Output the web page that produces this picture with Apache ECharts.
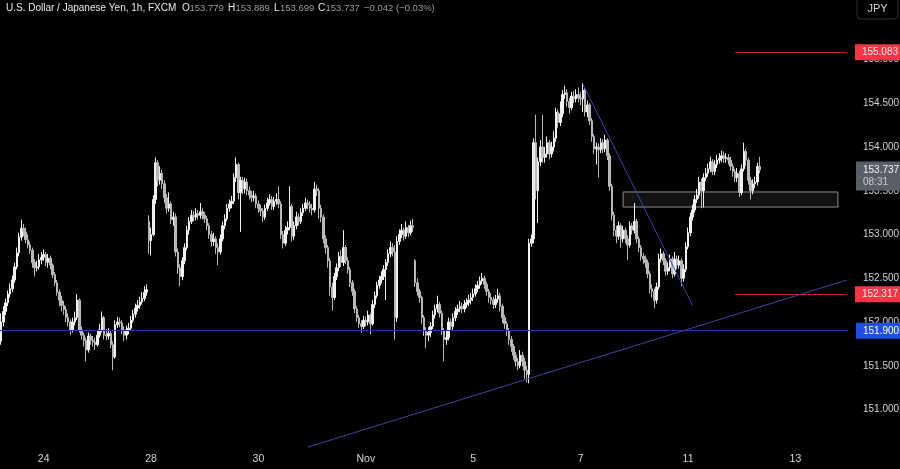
<!DOCTYPE html>
<html><head><meta charset="utf-8">
<script src="https://cdn.jsdelivr.net/npm/echarts@6/dist/echarts.min.js"></script>
<style>html,body{margin:0;padding:0;background:#000;}#c{width:900px;height:469px;}</style>
</head><body><div id="c"></div>
<script>
// ---- data (USDJPY 1h) ----
const opens = [151.78,152.00,152.12,152.22,152.32,152.38,152.48,152.63,152.79,152.97,
153.07,153.03,152.94,152.88,152.82,152.68,152.62,152.63,152.71,152.74,
152.77,152.68,152.73,152.65,152.54,152.45,152.34,152.25,152.19,152.14,
152.05,152.00,151.91,152.00,152.05,152.25,151.91,151.85,151.79,151.68,
151.84,151.79,151.77,151.74,151.85,151.91,152.05,151.85,151.84,151.87,
151.74,151.60,151.97,152.00,151.99,151.91,151.85,151.91,151.93,152.02,
152.09,152.16,152.19,152.23,152.27,152.34,153.15,152.93,153.00,153.40,
153.82,153.62,153.70,153.58,153.42,153.30,153.35,153.17,153.20,152.80,
152.62,152.52,152.70,152.85,153.05,153.15,153.22,153.20,153.24,153.22,
153.26,153.22,153.18,153.10,153.00,152.92,152.95,152.85,152.80,152.95,
153.10,153.18,153.30,153.35,153.38,153.65,153.80,153.48,153.62,153.52,
153.60,153.50,153.45,153.42,153.44,153.35,153.30,153.27,153.20,153.30,
153.36,153.40,153.32,153.38,153.40,153.35,153.00,152.90,153.05,153.08,
153.32,152.98,153.10,153.20,153.15,153.25,153.30,153.36,153.34,153.30,
153.28,153.52,153.50,153.30,153.20,152.95,152.85,152.70,152.40,152.28,
152.52,152.62,152.75,152.68,152.85,152.70,152.60,152.45,152.35,152.15,
152.05,151.98,151.95,152.02,152.00,152.08,151.98,152.20,152.30,152.42,
152.48,152.52,152.60,152.68,152.78,152.85,152.80,152.05,152.92,153.00,
153.05,152.98,153.08,153.02,153.10,152.70,152.45,152.35,152.28,152.05,
151.90,151.85,151.88,151.95,152.08,152.15,152.20,152.10,151.90,151.80,
151.82,152.00,151.95,152.05,152.12,152.15,152.18,152.15,152.20,152.22,
152.25,152.28,152.32,152.38,152.42,152.47,152.50,152.43,152.35,152.28,
152.25,152.20,152.26,152.30,152.18,152.05,151.98,151.90,151.80,151.72,
151.62,151.55,151.50,151.62,151.55,151.45,151.40,152.90,152.95,154.05,
153.50,153.83,154.00,153.88,153.92,154.05,153.92,154.00,154.10,154.40,
154.28,154.38,154.60,154.62,154.52,154.45,154.58,154.55,154.60,154.56,
154.55,154.65,154.40,154.48,154.30,154.12,153.98,154.00,153.97,154.05,
153.98,154.08,153.90,153.55,153.22,153.05,152.98,153.10,152.95,153.05,
152.95,152.88,153.10,153.05,153.15,152.95,152.85,152.75,152.72,152.68,
152.55,152.38,152.35,152.25,152.40,152.72,152.78,152.70,152.58,152.62,
152.72,152.55,152.72,152.65,152.70,152.50,152.60,152.86,153.02,153.20,
153.28,153.40,153.45,153.60,153.50,153.65,153.70,153.75,153.83,153.72,
153.80,153.85,153.87,153.90,153.87,153.88,153.85,153.78,153.72,153.65,
153.70,153.48,153.75,153.95,153.85,153.62,153.50,153.58,153.60,153.779];

const closes = [152.00,152.12,152.22,152.32,152.38,152.48,152.63,152.79,152.97,153.07,
153.03,152.94,152.88,152.82,152.68,152.62,152.63,152.71,152.74,152.77,
152.68,152.73,152.65,152.54,152.45,152.34,152.25,152.19,152.14,152.05,
152.00,151.91,152.00,152.05,152.25,151.91,151.85,151.79,151.68,151.84,
151.79,151.77,151.74,151.85,151.91,152.05,151.85,151.84,151.87,151.74,
151.60,151.97,152.00,151.99,151.91,151.85,151.91,151.93,152.02,152.09,
152.16,152.19,152.23,152.27,152.34,152.37,152.93,153.00,153.40,153.82,
153.62,153.70,153.58,153.42,153.30,153.35,153.17,153.20,152.80,152.62,
152.52,152.70,152.85,153.05,153.15,153.22,153.20,153.24,153.22,153.26,
153.22,153.18,153.10,153.00,152.92,152.95,152.85,152.80,152.95,153.10,
153.18,153.30,153.35,153.38,153.65,153.80,153.48,153.62,153.52,153.60,
153.50,153.45,153.42,153.44,153.35,153.30,153.27,153.20,153.30,153.36,
153.40,153.32,153.38,153.40,153.35,153.00,152.90,153.05,153.08,153.32,
152.98,153.10,153.20,153.15,153.25,153.30,153.36,153.34,153.30,153.28,
153.52,153.50,153.30,153.20,152.95,152.85,152.70,152.40,152.28,152.52,
152.62,152.75,152.68,152.85,152.70,152.60,152.45,152.35,152.15,152.05,
151.98,151.95,152.02,152.00,152.08,151.98,152.20,152.30,152.42,152.48,
152.52,152.60,152.68,152.78,152.85,152.80,152.05,152.92,153.00,153.05,
152.98,153.08,153.02,153.10,153.08,152.45,152.35,152.28,152.05,151.90,
151.85,151.88,151.95,152.08,152.15,152.20,152.10,151.90,151.80,151.82,
152.00,151.95,152.05,152.12,152.15,152.18,152.15,152.20,152.22,152.25,
152.28,152.32,152.38,152.42,152.47,152.50,152.43,152.35,152.28,152.25,
152.20,152.26,152.30,152.18,152.05,151.98,151.90,151.80,151.72,151.62,
151.55,151.50,151.62,151.55,151.45,151.40,152.90,152.95,154.05,153.50,
153.83,154.00,153.88,153.92,154.05,153.92,154.00,154.10,154.40,154.28,
154.38,154.60,154.62,154.52,154.45,154.58,154.55,154.60,154.56,154.55,
154.65,154.40,154.48,154.30,154.12,153.98,154.00,153.97,154.05,153.98,
154.08,153.90,153.55,153.22,153.05,152.98,153.10,152.95,153.05,152.95,
152.88,153.10,153.05,153.15,152.95,152.85,152.75,152.72,152.68,152.55,
152.38,152.35,152.25,152.40,152.72,152.78,152.70,152.58,152.62,152.72,
152.55,152.72,152.65,152.70,152.50,152.60,152.86,153.02,153.20,153.28,
153.40,153.45,153.60,153.50,153.65,153.70,153.75,153.83,153.72,153.80,
153.85,153.87,153.90,153.87,153.88,153.85,153.78,153.72,153.65,153.70,
153.48,153.75,153.95,153.85,153.62,153.50,153.58,153.60,153.779,153.737];

const highs = [152.10,152.18,152.27,152.36,152.44,152.53,152.68,152.85,153.02,153.17,
153.12,153.08,153.00,152.92,152.85,152.72,152.70,152.78,152.80,152.83,
152.80,152.78,152.76,152.67,152.57,152.48,152.37,152.30,152.24,152.18,
152.10,152.03,152.05,152.12,152.32,152.27,151.95,151.88,151.82,151.88,
151.87,151.84,151.82,151.90,151.98,152.12,152.07,151.92,151.93,151.90,
151.78,152.02,152.06,152.05,152.02,151.95,151.96,151.99,152.07,152.14,
152.21,152.25,152.29,152.34,152.41,152.43,153.22,153.08,153.45,153.88,
153.85,153.78,153.74,153.62,153.46,153.48,153.38,153.26,153.24,152.84,
152.66,152.74,152.90,153.10,153.20,153.28,153.27,153.30,153.28,153.36,
153.30,153.26,153.21,153.13,153.04,153.02,152.98,152.90,153.00,153.15,
153.23,153.35,153.40,153.44,153.70,153.88,153.82,153.66,153.66,153.65,
153.64,153.55,153.50,153.50,153.47,153.39,153.34,153.30,153.34,153.42,
153.46,153.44,153.43,153.47,153.55,153.38,153.04,153.10,153.15,153.55,
153.35,153.15,153.26,153.24,153.30,153.35,153.42,153.40,153.38,153.35,
153.60,153.57,153.53,153.34,153.23,152.99,152.88,152.73,152.45,152.56,
152.67,152.80,152.82,153.05,152.88,152.74,152.63,152.48,152.38,152.18,
152.08,152.02,152.07,152.06,152.13,152.10,152.25,152.35,152.46,152.53,
152.58,152.65,152.72,152.83,152.92,152.90,152.88,152.98,153.06,153.12,
153.08,153.15,153.11,153.16,153.18,152.72,152.50,152.38,152.30,152.08,
151.94,151.94,152.00,152.13,152.20,152.30,152.23,152.13,151.93,151.90,
152.05,152.04,152.10,152.17,152.20,152.24,152.22,152.25,152.27,152.31,
152.33,152.38,152.43,152.47,152.52,152.56,152.53,152.46,152.38,152.33,
152.29,152.31,152.38,152.33,152.21,152.08,152.01,151.93,151.84,151.75,
151.66,151.59,151.68,151.66,151.59,151.50,152.95,153.00,154.10,154.37,
153.88,154.08,154.37,154.00,154.12,154.08,154.06,154.18,154.45,154.43,
154.52,154.65,154.70,154.66,154.56,154.63,154.64,154.66,154.68,154.63,
154.73,154.67,154.53,154.50,154.33,154.15,154.05,154.04,154.10,154.09,
154.14,154.10,153.93,153.58,153.26,153.10,153.15,153.13,153.10,153.08,
152.99,153.15,153.13,153.36,153.18,152.98,152.88,152.79,152.76,152.71,
152.58,152.43,152.38,152.45,152.78,152.84,152.81,152.73,152.68,152.77,
152.75,152.80,152.76,152.76,152.73,152.66,152.91,153.08,153.25,153.34,
153.45,153.52,153.66,153.64,153.70,153.76,153.81,153.89,153.86,153.85,
153.91,153.93,153.96,153.95,153.93,153.92,153.89,153.81,153.75,153.76,
153.73,153.80,154.05,153.98,153.88,153.66,153.63,153.66,153.82,153.889];

const lows = [151.74,151.95,152.08,152.18,152.28,152.34,152.45,152.60,152.75,152.93,
152.98,152.90,152.84,152.78,152.62,152.52,152.58,152.60,152.66,152.70,
152.64,152.62,152.60,152.50,152.41,152.30,152.18,152.12,152.08,152.00,
151.95,151.85,151.88,151.96,152.02,151.88,151.80,151.72,151.55,151.65,
151.74,151.72,151.68,151.72,151.82,151.88,151.80,151.79,151.80,151.70,
151.45,151.58,151.93,151.94,151.86,151.78,151.80,151.86,151.90,151.99,
152.05,152.12,152.15,152.20,152.24,152.30,152.78,152.76,152.98,153.35,
153.55,153.57,153.52,153.36,153.24,153.26,153.12,153.10,152.75,152.55,
152.41,152.48,152.66,152.82,153.00,153.12,153.15,153.16,153.17,153.18,
153.17,153.13,153.05,152.95,152.86,152.87,152.78,152.65,152.77,152.92,
153.06,153.15,153.26,153.30,153.35,153.60,153.40,153.03,153.46,153.47,
153.45,153.40,153.37,153.38,153.30,153.25,153.21,153.14,153.17,153.27,
153.33,153.28,153.28,153.34,153.30,152.95,152.84,152.87,153.00,153.05,
152.92,152.94,153.06,153.10,153.12,153.21,153.27,153.29,153.25,153.22,
153.25,153.44,153.18,153.14,152.90,152.78,152.62,152.30,152.13,152.25,
152.48,152.58,152.63,152.64,152.66,152.55,152.40,152.30,152.10,152.00,
151.93,151.88,151.92,151.95,151.96,151.86,151.96,152.16,152.27,152.38,
152.44,152.48,152.25,152.64,152.74,152.75,151.80,152.00,152.88,152.96,
152.93,152.95,152.97,152.99,153.03,152.40,152.30,152.22,151.98,151.84,
151.70,151.78,151.83,151.92,152.04,152.11,152.05,151.85,151.55,151.74,
151.79,151.90,151.91,152.01,152.08,152.11,152.10,152.11,152.16,152.18,
152.20,152.24,152.29,152.34,152.38,152.43,152.38,152.30,152.22,152.20,
152.15,152.16,152.22,152.12,151.99,151.92,151.84,151.74,151.66,151.57,
151.49,151.45,151.47,151.49,151.35,151.31,151.30,152.86,152.90,153.40,
153.13,153.78,153.82,153.82,153.88,153.86,153.88,153.95,154.06,154.22,
154.24,154.34,154.55,154.46,154.38,154.42,154.50,154.51,154.51,154.48,
154.40,154.35,154.34,154.25,154.06,153.92,153.80,153.65,153.93,153.93,
153.94,153.85,153.50,153.16,152.98,152.90,152.94,152.85,152.91,152.90,
152.71,152.85,153.00,153.01,152.90,152.80,152.70,152.66,152.62,152.50,
152.33,152.28,152.16,152.21,152.37,152.68,152.65,152.53,152.54,152.58,
152.50,152.52,152.60,152.61,152.41,152.46,152.57,152.83,152.98,153.16,
153.25,153.36,153.41,153.30,153.31,153.61,153.66,153.71,153.68,153.68,
153.76,153.81,153.83,153.82,153.82,153.80,153.73,153.66,153.60,153.60,
153.43,153.45,153.72,153.78,153.57,153.40,153.46,153.53,153.56,153.699];

// time scale: hourly slots (data + empty future slots), day tick labels
const slotCount = 379;
const categories = Array.from({length: slotCount}, (_, i) => 'h' + i);
const xTickIdx = [19, 67, 115, 163, 211, 259, 307, 355];
const xTickLabels = ['24', '28', '30', 'Nov', '5', '7', '11', '13'];

// price scale
const yMin = 150.5, yMax = 155.5, yStep = 0.5;

// drawn levels / annotations (price coordinates)
const redLevels = [155.083, 152.317];
const redLevelStart = 328;
const blueLevel = 151.900;
const lastPrice = 153.737;
const countdown = '08:31';
const zoneX = [278, 374];
const zoneY = [153.486, 153.314];
const trendDown = [[260, 154.72], [309, 152.19]];
const trendUp = [[137, 150.57], [378, 152.48]];

const FONT = '"Liberation Sans",Arial,sans-serif';

const candleData = opens.map((o, i) => [o, closes[i], lows[i], highs[i]]);
const last = closes.length - 1;
const chg = closes[last] - closes[last - 1];

const chart = echarts.init(document.getElementById('c'), null, {renderer: 'canvas'});

const lineLabel = (txt, bg, fg) => ({
  show: true, position: 'end', distance: 8, formatter: txt,
  backgroundColor: bg, color: fg, fontFamily: FONT, fontSize: 10,
  padding: [3, 8, 3, 7], borderRadius: 0
});

const markLines = [
  {yAxis: blueLevel, lineStyle: {color: '#29348f', width: 1, type: 'solid'},
   label: lineLabel(blueLevel.toFixed(3), '#1f4fe3', '#ffffff')},
  ...redLevels.map(v => [
    {coord: [redLevelStart, v], lineStyle: {color: '#b8252f', width: 1, type: 'solid'},
     label: lineLabel(v.toFixed(3), '#f23645', '#ffe8ea')},
    {coord: [slotCount - 1, v]}
  ]),
  [{coord: trendDown[0], lineStyle: {color: '#3a44a8', width: 1, type: 'solid'}, label: {show: false}},
   {coord: trendDown[1]}],
  [{coord: trendUp[0], lineStyle: {color: '#3a44a8', width: 1, type: 'solid'}, label: {show: false}},
   {coord: trendUp[1]}],
  {yAxis: lastPrice, lineStyle: {color: 'rgba(0,0,0,0)', width: 1},
   label: {show: true, position: 'end', distance: 8,
     formatter: '{a|' + lastPrice.toFixed(3) + '}\n{b|' + countdown + '}',
     backgroundColor: '#5b5e68', padding: [3, 8, 2, 7], offset: [0, 6],
     rich: {a: {color: '#f0f0f0', fontSize: 10, fontFamily: FONT, lineHeight: 12},
            b: {color: '#c9cbd1', fontSize: 10, fontFamily: FONT, lineHeight: 12}}}}
];

const titleText = (x, txt, fill, size) => ({
  type: 'text', x: x, y: 8,
  style: {text: txt, fill: fill, fontSize: size, fontFamily: FONT, verticalAlign: 'middle', align: 'left'}
});

chart.setOption({
  backgroundColor: '#000000',
  animation: false,
  grid: {left: 0, right: 52, top: 15.75, bottom: 15.75, containLabel: false, outerBoundsMode: 'none'},
  xAxis: {
    type: 'category', data: categories, boundaryGap: true,
    axisLine: {show: false}, axisTick: {show: false}, splitLine: {show: false},
    axisLabel: {
      color: '#d1d4dc', fontSize: 10.5, fontFamily: FONT, margin: 0,
      interval: (idx) => xTickIdx.includes(idx),
      formatter: (val, idx) => { const k = xTickIdx.indexOf(idx); return k >= 0 ? xTickLabels[k] : ''; }
    }
  },
  yAxis: {
    type: 'value', position: 'right', min: yMin, max: yMax, interval: yStep,
    axisLine: {show: false}, axisTick: {show: false}, splitLine: {show: false},
    axisLabel: {color: '#d1d4dc', fontSize: 10, fontFamily: FONT, margin: 15,
      showMinLabel: false, showMaxLabel: false, formatter: v => v.toFixed(3)}
  },
  graphic: [
    titleText(6, 'U.S. Dollar / Japanese Yen, 1h, FXCM', '#e6e8ee', 10),
    titleText(182, 'O', '#e6e8ee', 10),
    titleText(189.5, opens[last].toFixed(3), '#9a9da6', 9.5),
    titleText(228, 'H', '#e6e8ee', 10),
    titleText(235.5, highs[last].toFixed(3), '#9a9da6', 9.5),
    titleText(274, 'L', '#e6e8ee', 10),
    titleText(280, lows[last].toFixed(3), '#9a9da6', 9.5),
    titleText(318, 'C', '#e6e8ee', 10),
    titleText(325.5, closes[last].toFixed(3), '#9a9da6', 9.5),
    titleText(364, '\u2212' + Math.abs(chg).toFixed(3) + ' (\u2212' + Math.abs(chg / closes[last - 1] * 100).toFixed(2) + '%)', '#9a9da6', 9.5),
    {type: 'group', x: 857, y: -5, children: [
      {type: 'rect', shape: {x: 0, y: 0, width: 41, height: 24, r: 4}, style: {fill: '#000', stroke: '#2a2e39', lineWidth: 1}},
      {type: 'text', x: 20.5, y: 14, style: {text: 'JPY', fill: '#d1d4dc', fontSize: 11, fontFamily: FONT, align: 'center', verticalAlign: 'middle'}}
    ]}
  ],
  series: [{
    type: 'candlestick', data: candleData, clip: false, barWidth: 2,
    itemStyle: {color: '#f0f0f0', color0: '#b8b8b8', borderColor: '#f0f0f0', borderColor0: '#b8b8b8', borderWidth: 1},
    markLine: {silent: true, symbol: ['none', 'none'], animation: false, precision: 3, data: markLines},
    markArea: {silent: true, itemStyle: {color: 'rgba(255,255,255,0.07)', borderColor: '#8f8f8f', borderWidth: 1},
      data: [[{coord: [zoneX[0], zoneY[0]]}, {coord: [zoneX[1], zoneY[1]]}]]}
  }]
});
</script>
</body></html>
